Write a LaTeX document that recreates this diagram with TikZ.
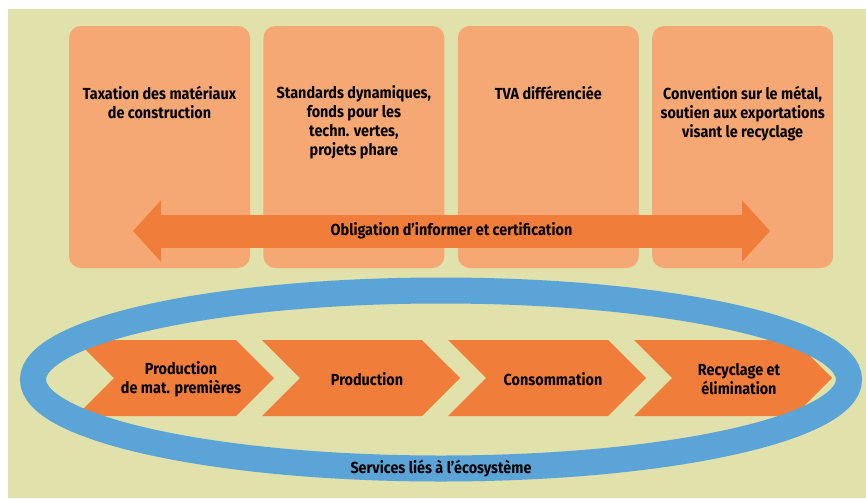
\documentclass[tikz,border=0pt]{standalone}
\usepackage{fontspec}
\setmainfont{Fira Sans}[FakeStretch=0.9]
\usepackage{tikz}
\usetikzlibrary{positioning,shapes.geometric,shapes.symbols,arrows.meta}

\definecolor{bgbeige}{RGB}{224,225,171}
\definecolor{boxorange}{RGB}{245,168,115}
\definecolor{deeporange}{RGB}{240,126,58}
\definecolor{ringblue}{RGB}{91,164,216}

\begin{document}
\begin{tikzpicture}[x=1pt,y=-1pt,node distance=13pt,
        font=\fontsize{16}{19}\selectfont\bfseries]
        \tikzstyle{policy}=[fill=boxorange, rounded corners=12pt, minimum width=181pt,
            minimum height=242pt, inner sep=0pt]
        \tikzstyle{policytext}=[align=center, inner sep=0pt]
        \tikzstyle{stage}=[signal, signal from=west, signal to=east, signal pointer angle=90,
            fill=deeporange, minimum width=198pt, minimum height=76pt, inner sep=0pt]
        \tikzstyle{stagetext}=[align=center, inner sep=0pt, xshift=6pt, yshift=-1pt]
        \tikzstyle{infoarrow}=[{Triangle[length=28pt,width=60pt]}-{Triangle[length=28pt,width=60pt]},
            line width=33pt, draw=deeporange]
        \tikzstyle{ring}=[ellipse, draw=ringblue, line width=26pt, minimum width=816pt,
            minimum height=178pt, inner sep=0pt, outer sep=0pt]

        \useasboundingbox (0,0) rectangle (866,498);
        \fill[bgbeige] (8,9) rectangle (866,498);

        % instruments
        \node[policy] (b1) at (159.5,147) {};
        \node[policy] (b2) [right=of b1] {};
        \node[policy] (b3) [right=of b2] {};
        \node[policy] (b4) [right=of b3] {};

        \node[policytext] (t1) [below=60pt of b1.north] {Taxation des matériaux\\de construction};
        \node[policytext] (t2) [below=60pt of b2.north] {Standards dynamiques,\\fonds pour les\\techn. vertes,\\projets phare};
        \node[policytext] (t3) [below=60pt of b3.north] {TVA différenciée};
        \node[policytext] (t4) [below=60pt of b4.north] {Convention sur le métal,\\soutien aux exportations\\visant le recyclage};

        % information runs across all of them
        \coordinate (al) at (133,231);
        \coordinate (ar) at (770,231);
        \draw[infoarrow] (al) -- (ar) node[midway] {Obligation d’informer et certification};

        % life cycle
        \node[stage] (c1) at (175,378) {};
        \node[stage] (c2) at (361,378) {};
        \node[stage] (c3) at (547,378) {};
        \node[stage] (c4) at (733,378) {};

        \node[stagetext] (s1) at (c1) {Production\\de mat. premières};
        \node[stagetext] (s2) at (c2) {Production};
        \node[stagetext] (s3) at (c3) {Consommation};
        \node[stagetext] (s4) at (c4) {Recyclage et\\élimination};

        \node[ring] (eco) at (441,379.5) {};
        \node (ecotext) at (eco.south) {Services liés à l’écosystème};
    \end{tikzpicture}
\end{document}
